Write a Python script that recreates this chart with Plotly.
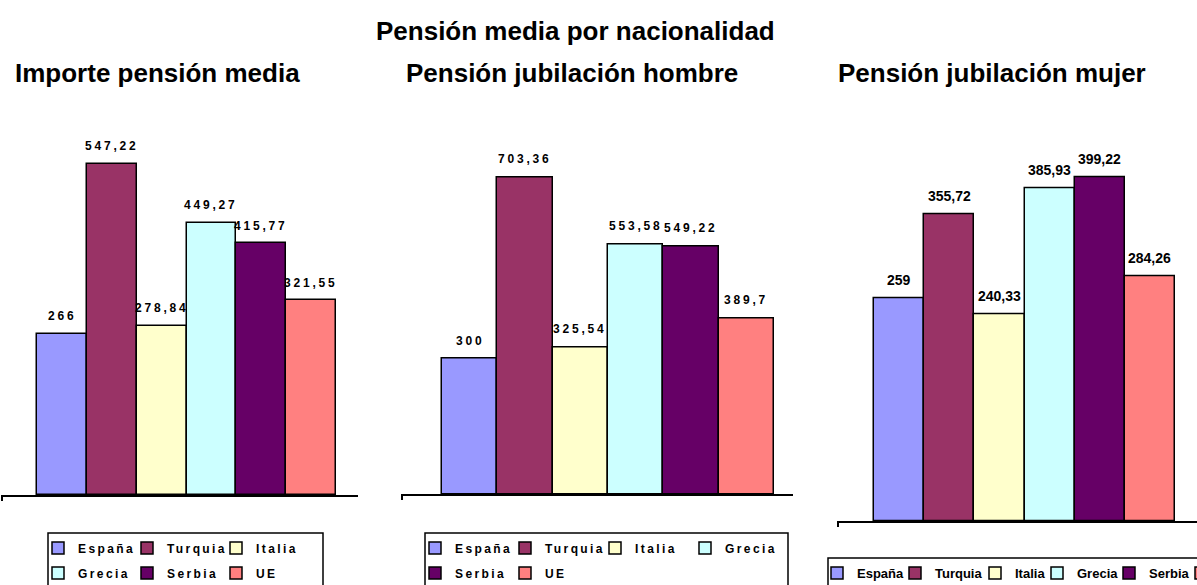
import plotly.graph_objects as go

# ---- data ----
countries = ["España", "Turquia", "Italia", "Grecia", "Serbia", "UE"]
colors = ["#9999FF", "#993366", "#FFFFCC", "#CCFFFF", "#660066", "#FF8080"]
importe_media = [266, 547.22, 278.84, 449.27, 415.77, 321.55]
jubilacion_hombre = [300, 703.36, 325.54, 553.58, 549.22, 389.7]
jubilacion_mujer = [259, 355.72, 240.33, 385.93, 399.22, 284.26]

main_title = "Pensión media por nacionalidad"
panel_titles = ["Importe pensión media", "Pensión jubilación hombre", "Pensión jubilación mujer"]

W, H = 1197, 585
FONT = "Liberation Sans, Arial, sans-serif"


def px_x(p):
    return p / W


def px_y(p):
    return 1 - p / H


def fmt(v):
    return f"{v:g}".replace(".", ",")


def spaced(t, ls):
    if ls:
        return f'<span style="letter-spacing:{ls}px">{t}</span>'
    return t


panels = [
    dict(vals=importe_media, xd=(1, 358), yd=(132.1, 495), xr=(-1.2224, 5.9415), yr=(0, 600),
         fs=12, ls=2.8, leg=[("legend", [0, 1, 2]), ("legend2", [3, 4, 5])], lls=2.4),
    dict(vals=jubilacion_hombre, xd=(401, 793), yd=(133.4, 494), xr=(-1.241, 5.8434), yr=(0, 800),
         fs=12, ls=2.8, leg=[("legend3", [0, 1, 2, 3]), ("legend4", [4, 5])], lls=2.4),
    dict(vals=jubilacion_mujer, xd=(837, 1197), yd=(133.2, 521), xr=(-1.2375, 5.9385), yr=(0, 450),
         fs=14, ls=0, leg=[("legend5", [0]), ("legend6", [1]), ("legend7", [2]),
                           ("legend8", [3]), ("legend9", [4]), ("legend10", [5])], lls=0),
]

fig = go.Figure()
annotations = []
layout = dict()

for k, p in enumerate(panels):
    sfx = "" if k == 0 else str(k + 1)
    xa, ya = "x" + sfx, "y" + sfx
    legend_of = {}
    for lname, idxs in p["leg"]:
        for i in idxs:
            legend_of[i] = lname
    for i, (c, v) in enumerate(zip(countries, p["vals"])):
        fig.add_trace(go.Bar(
            x=[i], y=[v], width=[1], name=spaced(c, p["lls"]),
            marker=dict(color=colors[i], line=dict(color="black", width=1.5)),
            xaxis=xa, yaxis=ya, legend=legend_of[i], showlegend=True,
            hoverinfo="skip",
        ))
        annotations.append(dict(
            x=i, y=v, xref=xa, yref=ya, text=spaced(fmt(v), p["ls"]), showarrow=False,
            yanchor="middle", xanchor="center", yshift=18,
            font=dict(family=FONT, size=p["fs"], color="black", weight="bold"),
        ))
    layout["xaxis" + sfx] = dict(
        domain=[px_x(p["xd"][0]), px_x(p["xd"][1])], range=list(p["xr"]), anchor=ya,
        showline=True, linecolor="black", linewidth=2, showgrid=False, zeroline=False,
        tickmode="array", tickvals=[p["xr"][0] + 0.01], ticks="outside", ticklen=4,
        tickwidth=2, tickcolor="black", showticklabels=False, fixedrange=True,
    )
    layout["yaxis" + sfx] = dict(
        domain=[px_y(p["yd"][1]), px_y(p["yd"][0])], range=list(p["yr"]), anchor=xa,
        visible=False, fixedrange=True,
    )

# legends: (left px, row-center px, entry width px, font size)
leg_pos = {
    "legend": (38, 548, 44, 12),
    "legend2": (38, 573, 44, 12),
    "legend3": (415, 548, 45, 12),
    "legend4": (415, 573, 45, 12),
    "legend5": (817, 573, 0, 13),
    "legend6": (895, 573, 0, 13),
    "legend7": (975, 573, 0, 13),
    "legend8": (1037, 573, 0, 13),
    "legend9": (1109, 573, 0, 13),
    "legend10": (1181, 573, 0, 13),
}
for lname, (lx, ly, ew, fs) in leg_pos.items():
    d = dict(
        x=px_x(lx), y=px_y(ly), xanchor="left", yanchor="middle", orientation="h",
        bgcolor="rgba(0,0,0,0)", borderwidth=0,
        font=dict(family=FONT, size=fs, color="black", weight="bold"),
        traceorder="normal", itemclick=False, itemdoubleclick=False,
    )
    if ew:
        d.update(entrywidth=ew, entrywidthmode="pixels")
    layout[lname] = d

# legend frames
shapes = []
for (x0, y0, x1) in [(48, 533, 323), (425, 533, 788), (828, 558, 1215)]:
    shapes.append(dict(type="rect", xref="paper", yref="paper",
                       x0=px_x(x0), x1=px_x(x1), y0=px_y(y0), y1=px_y(600),
                       line=dict(color="black", width=1.5), fillcolor="rgba(0,0,0,0)"))

# titles
annotations.append(dict(text=main_title, x=px_x(575), y=px_y(30.5), xref="paper", yref="paper",
                        showarrow=False, xanchor="center", yanchor="middle",
                        font=dict(family=FONT, size=26, color="black", weight="bold")))
for t, cx in zip(panel_titles, [157, 572, 992]):
    annotations.append(dict(text=t, x=px_x(cx), y=px_y(73), xref="paper", yref="paper",
                            showarrow=False, xanchor="center", yanchor="middle",
                            font=dict(family=FONT, size=26, color="black", weight="bold")))

fig.update_layout(
    width=W, height=H, margin=dict(l=0, r=0, t=0, b=0, autoexpand=False),
    paper_bgcolor="white", plot_bgcolor="white",
    barmode="overlay", bargap=0,
    annotations=annotations, shapes=shapes,
    font=dict(family=FONT, color="black"),
    **layout,
)

fig.write_html("out.html", config={"displayModeBar": False})
